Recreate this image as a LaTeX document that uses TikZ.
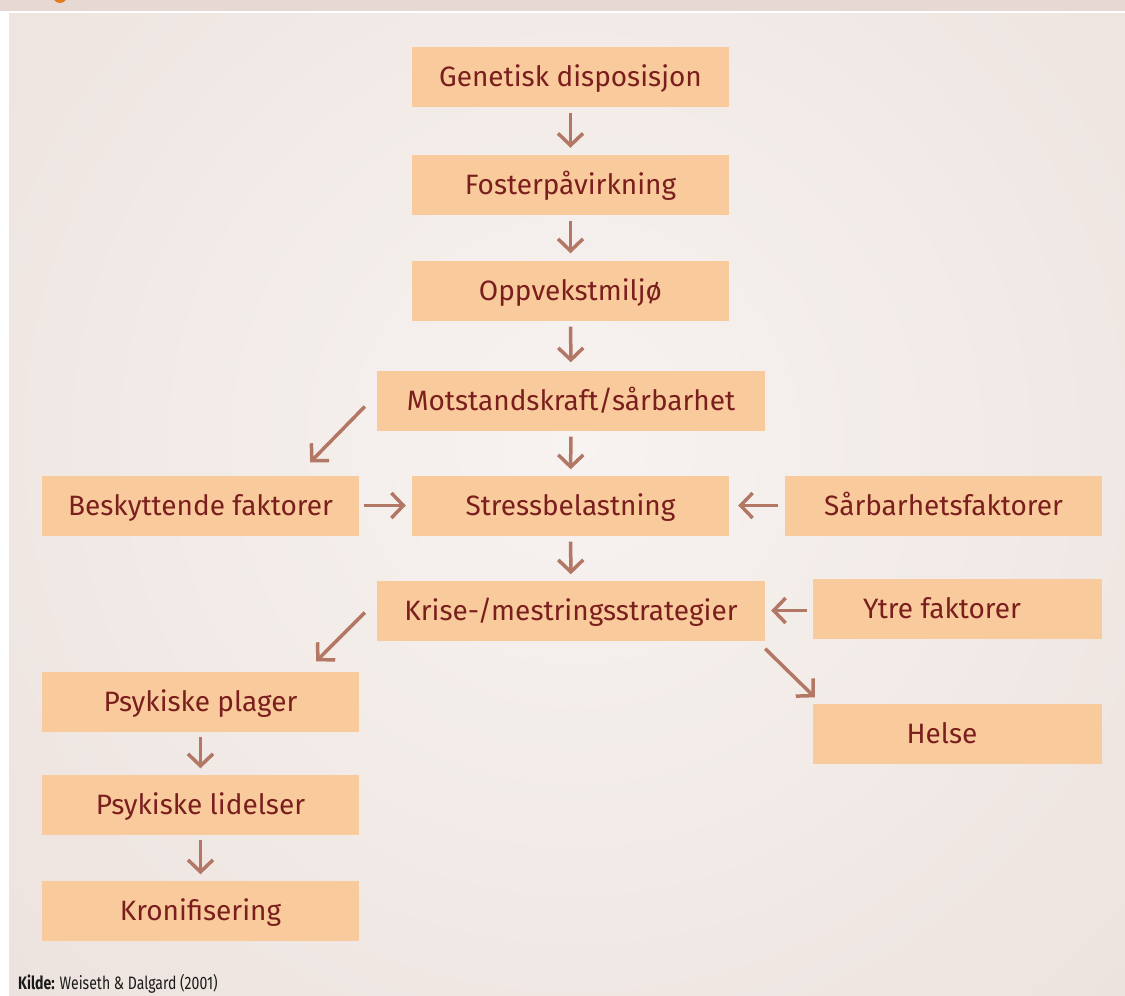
\documentclass[tikz,border=0pt]{standalone}
\usepackage{fontspec}
\setmainfont{Fira Sans}
\usetikzlibrary{arrows.meta}
\definecolor{bgedge}{HTML}{E8DBD5}
\definecolor{bgmid}{HTML}{F7F3F1}
\definecolor{boxfill}{HTML}{F9CB9C}
\definecolor{txt}{HTML}{7A1E1E}
\definecolor{arrc}{HTML}{B27765}
\definecolor{hdr}{HTML}{E6D9D3}
\definecolor{orng}{HTML}{E27A1E}
\definecolor{srctxt}{HTML}{1A1A1A}
\begin{document}
\begin{tikzpicture}[x=1pt,y=-1pt,
 box/.style={fill=boxfill, draw=none, inner sep=0pt, minimum height=60pt, minimum width=317pt, text=txt, font=\fontsize{28}{32}\selectfont, text height=19.5pt, text depth=0pt},
 wide/.style={minimum width=388pt},
 narrow/.style={minimum width=289pt},
 arr/.style={draw=arrc, line width=3.5pt, -{Straight Barb[length=12pt,width=25pt]}},
]
\useasboundingbox (0,0) rectangle (1125,996);
\clip (0,0) rectangle (1125,996);
\fill[white] (0,0) rectangle (1125,996);
\fill[hdr] (0,0) rectangle (1125,11);
\fill[orng] (60,-6) ellipse (8 and 9);
\fill[white] (10,11) rectangle (1125,13.5);
\begin{scope}
\clip (9,13.5) rectangle (1125,996);
\fill[bgedge] (9,13.5) rectangle (1125,996);
\shade[inner color=bgmid, outer color=bgedge] (575,440) circle (1150);
\end{scope}

\node[box] (gen) at (570.5,77) {Genetisk disposisjon};
\node[box] (fos) at (570.5,185) {Fosterpåvirkning};
\node[box] (opp) at (570.5,290.5) {Oppvekstmiljø};
\node[box,wide] (mot) at (571,400.5) {Motstandskraft/sårbarhet};
\node[box] (besk) at (200.5,505.5) {Beskyttende faktorer};
\node[box] (stress) at (570.5,505.5) {Stressbelastning};
\node[box] (sarb) at (943.5,505.5) {Sårbarhetsfaktorer};
\node[box,wide] (krise) at (571,610.5) {Krise-/mestringsstrategier};
\node[box,narrow] (ytre) at (957.5,608.5) {Ytre faktorer\hspace*{31pt}};
\node[box,narrow] (helse) at (957.5,733.5) {Helse\hspace*{31pt}};
\node[box] (plager) at (200.5,701.5) {Psykiske plager};
\node[box] (lidelser) at (200.5,804.5) {Psykiske lidelser};
\node[box] (kron) at (200.5,910.5) {Kronifisering};

\draw[arr, shorten <=6pt, shorten >=7pt] (gen) -- (fos);
\draw[arr, shorten <=6pt, shorten >=7pt] (fos) -- (opp);
\draw[arr, shorten <=6pt, shorten >=8pt] (opp) -- (mot);
\draw[arr, shorten <=6pt, shorten >=6pt] (mot) -- (stress);
\draw[arr, shorten <=6pt, shorten >=6pt] (stress) -- (krise);
\draw[arr, shorten <=5pt, shorten >=6pt] (plager) -- (lidelser);
\draw[arr, shorten <=5pt, shorten >=6pt] (lidelser) -- (kron);
\draw[arr, shorten <=5pt, shorten >=6pt] (besk) -- (stress);
\draw[arr, shorten <=7pt, shorten >=9pt] (sarb) -- (stress);
\coordinate (ys) at (ytre.west |- krise.east);
\draw[arr, shorten <=6pt, shorten >=6pt] (ys) -- (krise.east);
\draw[arr] ([shift={(-12,6)}]mot.west) -- ([shift={(-49,-13)}]besk.north east);
\draw[arr] ([shift={(-12,2)}]krise.west) -- ([shift={(-43,-10)}]plager.north east);
\draw[arr] ([shift={(0,8)}]krise.south east) -- ([shift={(2,-6)}]helse.north west);

\node[anchor=base west, inner sep=0pt, text=srctxt, font=\fontsize{18}{22}\selectfont] (src) at (18,989) {\scalebox{0.78}[1]{\textbf{Kilde:} Weiseth \& Dalgard (2001)}};
\end{tikzpicture}
\end{document}
